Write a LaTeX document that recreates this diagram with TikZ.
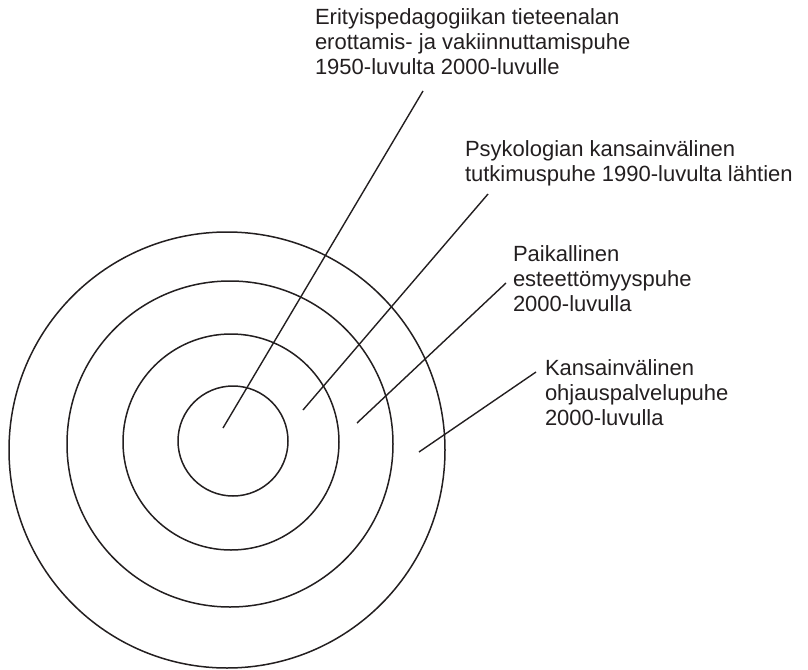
\documentclass[tikz,border=0pt]{standalone}
\usepackage{fontspec}
\setmainfont{Liberation Sans}
\definecolor{ink}{HTML}{231F20}
\begin{document}
\begin{tikzpicture}[x=1pt,y=-1pt,
  ring/.style={circle,draw=ink,line width=1.5pt,inner sep=0pt,outer sep=0pt},
  leader/.style={draw=ink,line width=1.4pt},
  lbl/.style={anchor=north west,inner sep=0pt,outer sep=0pt,align=left,text=ink,font=\fontsize{22}{24.7}\selectfont}]
\useasboundingbox (0,0) rectangle (808,669);
% rings
\node[ring,minimum size=436pt] (r4) at (227,450) {};
\node[ring,minimum size=326pt] (r3) at (230,444) {};
\node[ring,minimum size=216pt] (r2) at (231,442) {};
\node[ring,minimum size=110pt] (r1) at (233,441) {};
% leader ends
\coordinate (a1) at (223,428); \coordinate (b1) at (423,91);
\coordinate (a2) at (303,410); \coordinate (b2) at (488,194);
\coordinate (a3) at (357,423); \coordinate (b3) at (506,283);
\coordinate (a4) at (419,452); \coordinate (b4) at (536,372);
\draw[leader] (a1) -- (b1);
\draw[leader] (a2) -- (b2);
\draw[leader] (a3) -- (b3);
\draw[leader] (a4) -- (b4);
% labels
\node[lbl] (t1) at (315,9) {Erityispedagogiikan tieteenalan\\erottamis- ja vakiinnuttamispuhe\\1950-luvulta 2000-luvulle};
\node[lbl] (t2) at (465,141) {Psykologian kansainvälinen\\tutkimuspuhe 1990-luvulta lähtien};
\node[lbl] (t3) at (513,246) {Paikallinen\\esteettömyyspuhe\\2000-luvulla};
\node[lbl] (t4) at (545,360) {Kansainvälinen\\ohjauspalvelupuhe\\2000-luvulla};
\end{tikzpicture}
\end{document}
